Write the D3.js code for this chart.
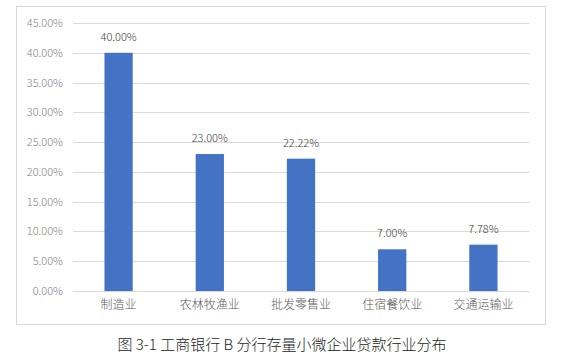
<!DOCTYPE html>
<html><head><meta charset="utf-8">
<script src="https://cdn.jsdelivr.net/npm/d3@7"></script>
<style>body{margin:0;background:#fff;} svg{display:block;}</style>
</head><body>
<svg id="c" width="568" height="361"></svg>
<script>
const categories = ["制造业","农林牧渔业","批发零售业","住宿餐饮业","交通运输业"];
const values = [40.00, 23.00, 22.22, 7.00, 7.78];
const valueLabels = ["40.00%","23.00%","22.22%","7.00%","7.78%"];
const yTicks = [0,5,10,15,20,25,30,35,40,45];
const title = "图 3-1 工商银行 B 分行存量小微企业贷款行业分布";

const svg = d3.select("#c");
svg.append("rect").attr("x",16.5).attr("y",6.5).attr("width",529).attr("height",318)
  .attr("fill","#fff").attr("stroke","#d9d9d9").attr("stroke-width",1);

const x = d3.scaleBand().domain(categories).range([73,529]).paddingInner(0.69).paddingOuter(0.345);
const y = d3.scaleLinear().domain([0,45]).range([291,23]);

const font = "'Noto Sans CJK SC','Noto Sans',sans-serif";
const grid = svg.append("g");
grid.selectAll("line").data(yTicks).join("line")
  .attr("x1",73).attr("x2",529)
  .attr("y1",d=>Math.round(y(d))+0.5).attr("y2",d=>Math.round(y(d))+0.5)
  .attr("stroke","#d9d9d9").attr("stroke-width",1);

const yAxis = d3.axisLeft(y).tickValues(yTicks).tickFormat(d=>d.toFixed(2)+"%").tickSize(0).tickPadding(10);
const ga = svg.append("g").attr("transform","translate(73,0)").call(yAxis);
ga.select(".domain").remove();
ga.selectAll("text").attr("fill","#7f7f7f").style("font-family",font).style("font-size","11px").style("font-weight","300");

svg.append("g").selectAll("rect").data(values).join("rect")
  .attr("x",(d,i)=>x(categories[i])).attr("width",x.bandwidth())
  .attr("y",d=>y(d)).attr("height",d=>y(0)-y(d)).attr("fill","#4472c4");

svg.append("g").selectAll("text").data(values).join("text")
  .attr("x",(d,i)=>x(categories[i])+x.bandwidth()/2).attr("y",d=>y(d)-12)
  .attr("text-anchor","middle").attr("fill","#404040")
  .style("font-family",font).style("font-size","11px").style("font-weight","300")
  .text((d,i)=>valueLabels[i]);

const xAxis = d3.axisBottom(x).tickSize(0).tickPadding(9);
const gx = svg.append("g").attr("transform","translate(0,291)").call(xAxis);
gx.select(".domain").remove();
gx.selectAll("text").attr("fill","#595959").style("font-family",font).style("font-size","12px").style("font-weight","300");

svg.append("text").attr("x",282).attr("y",350).attr("text-anchor","middle")
  .attr("fill","#222").style("font-family",font).style("font-size","15px").style("font-weight","300").text(title);
</script>
</body></html>
